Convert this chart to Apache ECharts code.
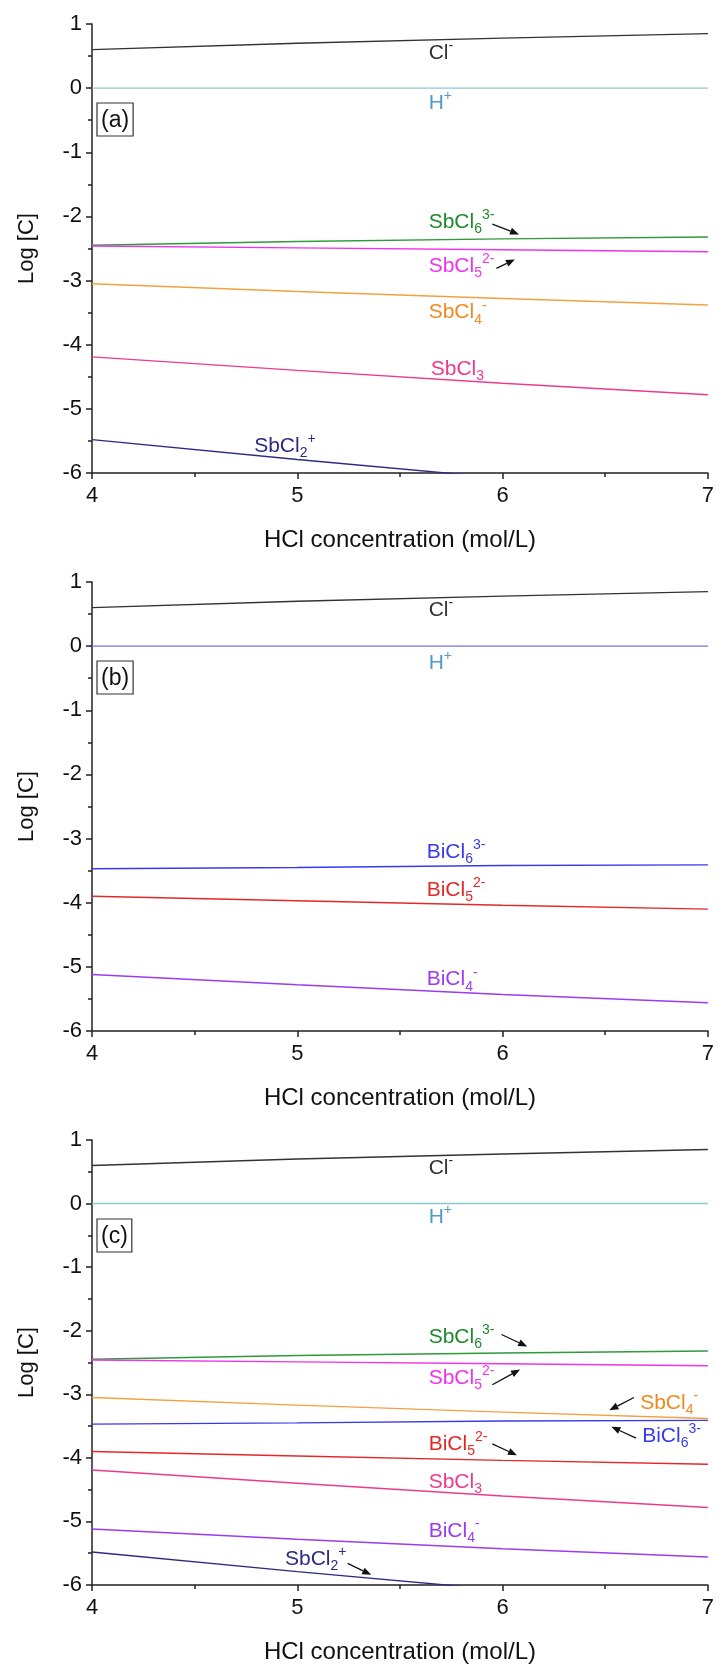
<!DOCTYPE html>
<html>
<head>
<meta charset="utf-8">
<script src="https://cdn.jsdelivr.net/npm/echarts@6/dist/echarts.min.js"></script>
<style>
html,body{margin:0;padding:0;background:#fff;}
#c{width:717px;height:1665px;}
</style>
</head>
<body>
<div id="c"></div>
<script>
// ---------- data ----------
const hcl = [4, 5, 6, 7];
const logCl = [0.60, 0.70, 0.78, 0.85];
const logH = [0, 0, 0, 0];
const logSbCl6 = [-2.45, -2.39, -2.35, -2.32];
const logSbCl5 = [-2.46, -2.49, -2.52, -2.55];
const logSbCl4 = [-3.05, -3.17, -3.28, -3.38];
const logSbCl3 = [-4.19, -4.40, -4.60, -4.78];
const logSbCl2 = [-5.48, -5.79, -6.08, -6.38];
const logBiCl6 = [-3.47, -3.45, -3.42, -3.41];
const logBiCl5 = [-3.90, -3.97, -4.04, -4.10];
const logBiCl4 = [-5.12, -5.28, -5.43, -5.56];
const xTicks = [4, 5, 6, 7];
const yTicks = [1, 0, -1, -2, -3, -4, -5, -6];
const panelNames = ['(a)', '(b)', '(c)'];
const xTitle = 'HCl concentration (mol/L)';
const yTitle = 'Log [C]';

// ---------- styling ----------
const FONT = "'Liberation Sans', Arial, sans-serif";
const species = {
  Cl:    {vals: logCl,    color: '#333333', text: '{m|Cl}{sup|-}'},
  H:     {vals: logH,     color: '#8ec6d2', text: '{m|H}{sup|+}', tcolor: '#4f9bcc'},
  SbCl6: {vals: logSbCl6, color: '#2e9a3a', text: '{m|SbCl}{sub|6}{sup|3-}', tcolor: '#1f8a2c'},
  SbCl5: {vals: logSbCl5, color: '#ee33ee', text: '{m|SbCl}{sub|5}{sup|2-}'},
  SbCl4: {vals: logSbCl4, color: '#f4a040', text: '{m|SbCl}{sub|4}{sup|-}', tcolor: '#f08a20'},
  SbCl3: {vals: logSbCl3, color: '#ec3a8e', text: '{m|SbCl}{sub|3}'},
  SbCl2: {vals: logSbCl2, color: '#2b2b86', text: '{m|SbCl}{sub|2}{sup|+}'},
  BiCl6: {vals: logBiCl6, color: '#3a3aea', text: '{m|BiCl}{sub|6}{sup|3-}'},
  BiCl5: {vals: logBiCl5, color: '#e42828', text: '{m|BiCl}{sub|5}{sup|2-}'},
  BiCl4: {vals: logBiCl4, color: '#9b3cf0', text: '{m|BiCl}{sub|4}{sup|-}'}
};

const panels = [
  {top: 24, series: ['Cl','H','SbCl6','SbCl5','SbCl4','SbCl3','SbCl2'], hColor: null,
   labels: [
     ['Cl', 5.64, 0.55], ['H', 5.64, -0.23],
     ['SbCl6', 5.64, -2.09, [5.95,-2.12,6.08,-2.28]],
     ['SbCl5', 5.64, -2.77, [5.97,-2.81,6.06,-2.67]],
     ['SbCl4', 5.64, -3.50], ['SbCl3', 5.65, -4.38], ['SbCl2', 4.79, -5.58]
   ]},
  {top: 582, series: ['Cl','H','BiCl6','BiCl5','BiCl4'], hColor: '#7373d6',
   labels: [
     ['Cl', 5.64, 0.56], ['H', 5.64, -0.27],
     ['BiCl6', 5.63, -3.21], ['BiCl5', 5.63, -3.81], ['BiCl4', 5.63, -5.20]
   ]},
  {top: 1140, series: ['Cl','H','SbCl6','SbCl5','SbCl4','BiCl6','BiCl5','SbCl3','BiCl4','SbCl2'], hColor: null,
   labels: [
     ['Cl', 5.64, 0.55], ['H', 5.64, -0.22],
     ['SbCl6', 5.64, -2.10, [5.995,-2.06,6.12,-2.25]],
     ['SbCl5', 5.64, -2.75, [5.95,-2.85,6.085,-2.61]],
     ['SbCl4', 6.67, -3.14, [6.64,-3.05,6.52,-3.25]],
     ['BiCl6', 6.68, -3.66, [6.65,-3.69,6.53,-3.51]],
     ['BiCl5', 5.64, -3.79, [5.95,-3.78,6.07,-3.96]],
     ['SbCl3', 5.64, -4.38], ['BiCl4', 5.64, -5.16],
     ['SbCl2', 4.94, -5.60, [5.245,-5.66,5.36,-5.84]]
   ]}
];

const chart = echarts.init(document.getElementById('c'), null, {renderer: 'canvas'});

const axisCommon = {
  axisLine: {show: true, onZero: false, lineStyle: {color: '#222', width: 1.5}},
  axisTick: {show: true, inside: false, length: 6, lineStyle: {color: '#222', width: 1.5}},
  minorTick: {show: true, splitNumber: 2, length: 4, lineStyle: {color: '#222', width: 1.5}},
  splitLine: {show: false},
  minorSplitLine: {show: false}
};

const grids = [], xAxes = [], yAxes = [], series = [];
panels.forEach((p, i) => {
  grids.push({left: 92, top: p.top, width: 618, height: 449});
  xAxes.push(Object.assign({}, axisCommon, {
    type: 'value', gridIndex: i, min: xTicks[0], max: xTicks[xTicks.length-1], interval: 1,
    axisLabel: {fontSize: 22, color: '#111', fontFamily: FONT, margin: 12},
    name: xTitle, nameLocation: 'middle', nameGap: 55,
    nameTextStyle: {fontSize: 24, color: '#111', fontFamily: FONT}
  }));
  yAxes.push(Object.assign({}, axisCommon, {
    type: 'value', gridIndex: i, min: yTicks[yTicks.length-1], max: yTicks[0], interval: 1,
    axisLabel: {fontSize: 22, color: '#111', fontFamily: FONT, margin: 10},
    name: yTitle, nameLocation: 'middle', nameGap: 54, nameRotate: 90,
    nameTextStyle: {fontSize: 22, color: '#111', fontFamily: FONT}
  }));
  p.series.forEach(k => {
    const s = species[k];
    const col = (k === 'H' && p.hColor) ? p.hColor : s.color;
    series.push({
      type: 'line', xAxisIndex: i, yAxisIndex: i, name: k,
      data: hcl.map((x, j) => [x, s.vals[j]]),
      showSymbol: false, symbol: 'none', clip: true, silent: true,
      lineStyle: {color: col, width: 1.4}
    });
  });
});

chart.setOption({
  animation: false,
  backgroundColor: '#fff',
  grid: grids, xAxis: xAxes, yAxis: yAxes, series: series
});

// ---------- annotations ----------
const graphics = [];
function richFor(color) {
  return {
    m:   {fontSize: 21, fontFamily: FONT, fill: color, lineHeight: 28, verticalAlign: 'middle'},
    sub: {fontSize: 14, fontFamily: FONT, fill: color, lineHeight: 14, verticalAlign: 'bottom'},
    sup: {fontSize: 14, fontFamily: FONT, fill: color, lineHeight: 14, verticalAlign: 'top'}
  };
}
panels.forEach((p, i) => {
  const conv = (x, y) => chart.convertToPixel({xAxisIndex: i, yAxisIndex: i}, [x, y]);
  // panel tag
  graphics.push({
    type: 'text', x: 97, y: p.top + 79, silent: true,
    style: {text: panelNames[i], font: '23px ' + FONT, fill: '#111',
            borderColor: '#333', borderWidth: 1.2, padding: [6, 4, 4, 4]}
  });
  p.labels.forEach(l => {
    const s = species[l[0]];
    const col = s.tcolor || s.color;
    const pt = conv(l[1], l[2]);
    graphics.push({
      type: 'text', x: pt[0], y: pt[1], silent: true,
      style: {text: s.text, rich: richFor(col), align: 'left', verticalAlign: 'middle', fill: col}
    });
    if (l[3]) {
      const a = conv(l[3][0], l[3][1]), b = conv(l[3][2], l[3][3]);
      const dx = b[0]-a[0], dy = b[1]-a[1], len = Math.hypot(dx, dy);
      const ux = dx/len, uy = dy/len, hl = 9, hw = 3.6;
      const bx = b[0]-ux*hl, by = b[1]-uy*hl;
      graphics.push({type: 'line', silent: true,
        shape: {x1: a[0], y1: a[1], x2: bx, y2: by},
        style: {stroke: '#111', lineWidth: 1.3}});
      graphics.push({type: 'polygon', silent: true,
        shape: {points: [[b[0], b[1]], [bx - uy*hw, by + ux*hw], [bx + uy*hw, by - ux*hw]]},
        style: {fill: '#111'}});
    }
  });
});
chart.setOption({graphic: graphics});
</script>
</body>
</html>
